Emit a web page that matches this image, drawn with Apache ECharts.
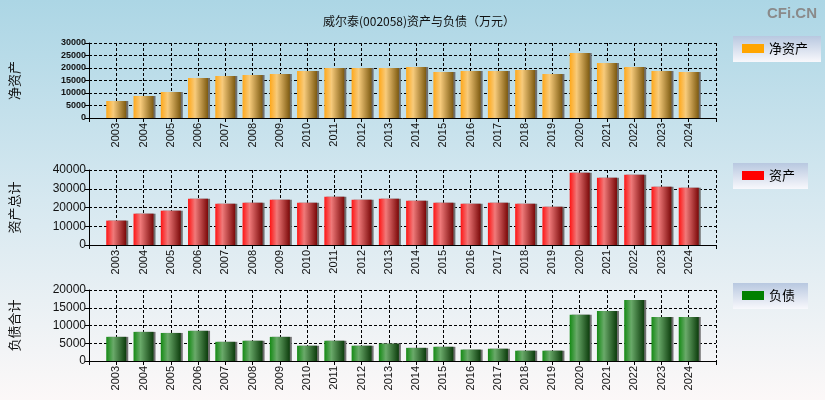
<!DOCTYPE html>
<html>
<head>
<meta charset="utf-8">
<style>
  html, body { margin: 0; padding: 0; }
  #chart { width: 825px; height: 400px; }
</style>
<script src="https://cdn.jsdelivr.net/npm/echarts@6/dist/echarts.min.js"></script>
</head>
<body>
<div id="chart"></div>
<script>
// 年份
var years = ["2003", "2004", "2005", "2006", "2007", "2008", "2009", "2010", "2011", "2012", "2013",
  "2014", "2015", "2016", "2017", "2018", "2019", "2020", "2021", "2022", "2023", "2024"];
// 净资产（万元）
var netAssets = [6800, 8800, 10400, 16000, 16800, 17200, 17600, 18800, 20000, 20000, 20000,
  20400, 18400, 18800, 18800, 19200, 17600, 26000, 22000, 20400, 18800, 18400];
// 资产总计
var totalAssets = [13000, 16700, 18300, 24700, 22000, 22600, 24200, 22600, 25800, 24200, 24700,
  23600, 22600, 22000, 22600, 22000, 20400, 38600, 35900, 37500, 31100, 30600];
// 负债合计
var totalDebt = [6800, 8200, 7900, 8500, 5400, 5700, 6800, 4300, 5700, 4300, 4900,
  3700, 4000, 3200, 3450, 2900, 2900, 13000, 14100, 17200, 12400, 12400];

var titleText = "威尔泰(002058)资产与负债（万元）";
var axisNames = ["净资产", "资产总计", "负债合计"];
var legendNames = ["净资产", "资产", "负债"];

// 两端留空一格
var cats = [""].concat(years, [""]);
function pad(arr) {
  return [null].concat(arr, [null]);
}

function barGrad(c1, c2, c3) {
  return new echarts.graphic.LinearGradient(0, 0, 1, 0, [
    { offset: 0, color: c1 },
    { offset: 0.35, color: c2 },
    { offset: 1, color: c3 }
  ]);
}

var panels = [
  { top: 43, height: 75, max: 30000, interval: 5000, yFont: 9, yBold: "bold", xFont: 11,
    data: netAssets, color: barGrad("#ffa81a", "#f7cb7c", "#7d5a10"), swatch: "#ffa500", legendTop: 36 },
  { top: 170, height: 75, max: 40000, interval: 10000, yFont: 12, yBold: "normal", xFont: 11,
    data: totalAssets, color: barGrad("#ff1414", "#f07a7a", "#7a0808"), swatch: "#ff0000", legendTop: 163 },
  { top: 290, height: 71, max: 20000, interval: 5000, yFont: 12, yBold: "normal", xFont: 11,
    data: totalDebt, color: barGrad("#148a14", "#6aaa6a", "#0c3c0c"), swatch: "#008000", legendTop: 283 }
];

var grids = [], xAxes = [], yAxes = [], series = [], legends = [];
panels.forEach(function (p, i) {
  grids.push({ left: 89, top: p.top, width: 627, height: p.height });
  xAxes.push({
    type: "category",
    gridIndex: i,
    data: cats,
    boundaryGap: false,
    axisLine: { lineStyle: { color: "#000", width: 1 } },
    axisTick: { show: true, length: 4, lineStyle: { color: "#000" } },
    axisLabel: { rotate: 90, interval: 0, margin: 5, color: "#111", fontSize: p.xFont, fontFamily: "Liberation Sans" },
    splitLine: { show: true, lineStyle: { color: "#000", type: [3, 2], width: 1 } }
  });
  yAxes.push({
    type: "value",
    gridIndex: i,
    min: 0,
    max: p.max,
    interval: p.interval,
    name: axisNames[i],
    nameLocation: "middle",
    nameRotate: 90,
    nameGap: 68,
    nameTextStyle: { color: "#111", fontSize: 13, fontFamily: "Noto Sans CJK SC" },
    axisLine: { show: true, lineStyle: { color: "#000", width: 1 } },
    axisTick: { show: true, length: 4, lineStyle: { color: "#000" } },
    axisLabel: {
      color: "#111", fontSize: p.yFont, fontWeight: p.yBold, margin: 3, fontFamily: "Liberation Sans",
      formatter: function (v) { return String(v); }
    },
    splitLine: { show: true, lineStyle: { color: "#000", type: [3, 2], width: 1 } }
  });
  series.push({
    name: legendNames[i],
    type: "bar",
    xAxisIndex: i,
    yAxisIndex: i,
    data: pad(p.data),
    barWidth: 20,
    itemStyle: {
      color: p.color,
      shadowColor: "#6f6f6f",
      shadowOffsetX: 2,
      shadowOffsetY: 0,
      shadowBlur: 0
    }
  });
  legends.push({
    data: [{ name: legendNames[i], itemStyle: { color: p.swatch, shadowBlur: 0, shadowOffsetX: 0 } }],
    left: 733,
    top: p.legendTop,
    orient: "vertical",
    itemWidth: 22,
    itemHeight: 9,
    padding: [6, 13, 7, 9],
    icon: "rect",
    selectedMode: false,
    textStyle: { fontSize: 13, color: "#000", fontFamily: "Noto Sans CJK SC" },
    backgroundColor: new echarts.graphic.LinearGradient(0, 0, 0, 1, [
      { offset: 0, color: "#b8c8e0" },
      { offset: 1, color: "#f8f8fc" }
    ])
  });
});

var chart = echarts.init(document.getElementById("chart"));
chart.setOption({
  animation: false,
  backgroundColor: new echarts.graphic.LinearGradient(0, 0, 0, 1, [
    { offset: 0, color: "#acd6e5" },
    { offset: 0.5, color: "#d6e8f0" },
    { offset: 1, color: "#fcf8f8" }
  ]),
  title: [
    { text: titleText, left: 318, top: 10,
      textStyle: { fontSize: 12, fontWeight: "normal", color: "#111", fontFamily: "Noto Sans CJK SC" } },
    { text: "CFi.CN", right: 3, top: 1,
      textStyle: { fontSize: 15, fontWeight: "bold", color: "#8a8a8a", fontFamily: "Liberation Sans" } }
  ],
  legend: legends,
  grid: grids,
  xAxis: xAxes,
  yAxis: yAxes,
  series: series
});
</script>
</body>
</html>
